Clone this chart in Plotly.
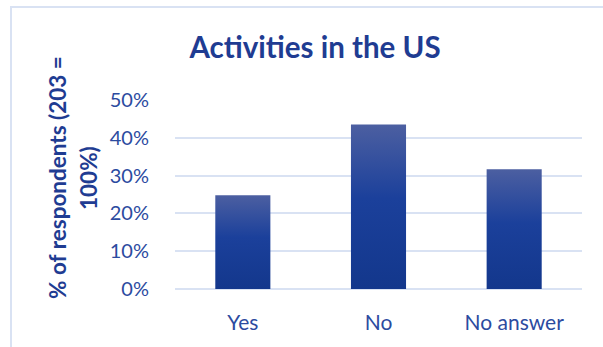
import plotly.graph_objects as go

# ---- data ----
categories = ["Yes", "No", "No answer"]
values = [0.248, 0.435, 0.317]
y_tick_vals = [0, 0.1, 0.2, 0.3, 0.4, 0.5]
title_text = "Activities in the US"
y_title_lines = ["% of respondents (203 =", "100%)"]

# ---- style ----
W, H = 603, 347
L, R, T, B = 175, 21, 100, 58
plot_w = W - L - R
plot_h = H - T - B
half_w = 0.203
title_col = "#1F3C92"
tick_col = "#2C4B9F"
grid_col = "#D9E2F3"
font_family = "Lato"


def px_to_paper_x(px):
    return (px - L) / plot_w


def px_to_paper_y(py):
    return (H - B - py) / plot_h


fig = go.Figure()
for i, (cat, v) in enumerate(zip(categories, values)):
    fig.add_trace(go.Scatter(
        x=[i - half_w, i + half_w, i + half_w, i - half_w, i - half_w],
        y=[0, 0, v, v, 0],
        mode="lines",
        line=dict(width=0, color="#1A3F9B"),
        fill="toself",
        fillgradient=dict(
            type="vertical",
            colorscale=[[0, "#13378C"], [0.55, "#1B409B"], [1, "#4C5FA1"]],
        ),
        name=cat,
        hoverinfo="skip",
        showlegend=False,
    ))

fig.update_layout(
    width=W, height=H,
    margin=dict(l=L, r=R, t=T, b=B, pad=0),
    paper_bgcolor="white", plot_bgcolor="white",
    font=dict(family=font_family, color=tick_col),
    title=dict(
        text="<b>" + title_text + "</b>",
        x=315 / W, xanchor="center",
        y=1 - 48 / H, yanchor="middle",
        font=dict(family=font_family, size=29.5, color=title_col),
    ),
    xaxis=dict(
        range=[-0.5, 2.5],
        tickmode="array", tickvals=list(range(len(categories))), ticktext=categories,
        showgrid=False, zeroline=False, showline=False,
        ticks="outside", ticklen=15, tickcolor="rgba(0,0,0,0)",
        tickfont=dict(size=21, color=tick_col, family=font_family),
        fixedrange=True,
    ),
    yaxis=dict(
        range=[0, 0.5],
        tickmode="array", tickvals=y_tick_vals, tickformat=".0%",
        showgrid=True, gridcolor=grid_col, gridwidth=2,
        zeroline=True, zerolinecolor=grid_col, zerolinewidth=2,
        showline=False,
        ticks="outside", ticklen=21, tickcolor="rgba(0,0,0,0)",
        tickfont=dict(size=20, color=tick_col, family=font_family),
        fixedrange=True,
    ),
)

# y-axis title as two rotated lines
for line_text, px_x in zip(y_title_lines, [57, 88]):
    fig.add_annotation(
        text="<b>" + line_text + "</b>",
        textangle=-90,
        xref="paper", yref="paper",
        x=px_to_paper_x(px_x), y=px_to_paper_y(178),
        xanchor="center", yanchor="middle",
        showarrow=False,
        font=dict(family=font_family, size=22.5, color=title_col),
    )

# chart area border (left and top visible)
fig.add_shape(
    type="rect", xref="paper", yref="paper",
    x0=px_to_paper_x(11), x1=px_to_paper_x(W + 20),
    y0=px_to_paper_y(H + 20), y1=px_to_paper_y(7),
    line=dict(color=grid_col, width=2),
    fillcolor="rgba(0,0,0,0)",
    layer="below",
)

fig.write_html("out.html")
